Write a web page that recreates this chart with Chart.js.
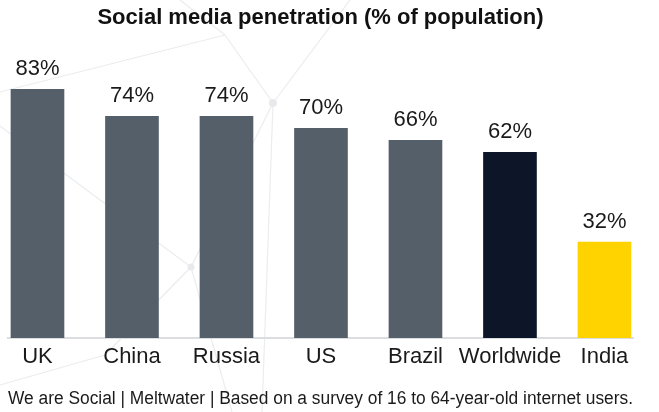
<!DOCTYPE html>
<html>
<head>
<meta charset="utf-8">
<script src="https://cdn.jsdelivr.net/npm/chart.js@4"></script>
<style>
  html, body { margin: 0; padding: 0; background: #fff; }
  #wrap { position: relative; width: 659px; height: 412px; }
  #bg { position: absolute; left: 0; top: 0; }
  #chart { position: absolute; left: 0; top: 0; }
</style>
</head>
<body>
<div id="wrap">
  <!-- faint network pattern behind the chart -->
  <svg id="bg" width="659" height="412">
    <g stroke="#ebecee" stroke-width="1.2" fill="none">
      <line x1="0" y1="92" x2="225" y2="35"/>
      <line x1="225" y1="35" x2="273" y2="103"/>
      <line x1="180" y1="0" x2="225" y2="35"/>
      <line x1="273" y1="103" x2="350" y2="0"/>
      <line x1="273" y1="103" x2="262" y2="412"/>
      <line x1="273" y1="103" x2="191" y2="267"/>
      <line x1="0" y1="126" x2="191" y2="267"/>
      <line x1="191" y1="267" x2="105" y2="355"/>
      <line x1="105" y1="355" x2="0" y2="385"/>
      <line x1="191" y1="267" x2="232" y2="412"/>
    </g>
    <g fill="#e8e9ec">
      <circle cx="273" cy="103" r="4"/>
      <circle cx="191" cy="267" r="3.5"/>
    </g>
  </svg>
  <canvas id="chart" width="659" height="412"></canvas>
</div>
<script>
const categories = ['UK', 'China', 'Russia', 'US', 'Brazil', 'Worldwide', 'India'];
const penetration = [83, 74, 74, 70, 66, 62, 32];
const barColors = ['#555f6a', '#555f6a', '#555f6a', '#555f6a', '#555f6a', '#0c1628', '#ffd300'];

const valueLabels = {
  id: 'valueLabels',
  afterDatasetsDraw(chart) {
    const ctx = chart.ctx;
    const meta = chart.getDatasetMeta(0);
    ctx.save();
    ctx.font = '22px "Liberation Sans", Arial, sans-serif';
    ctx.fillStyle = '#1a1a1a';
    ctx.textAlign = 'center';
    ctx.textBaseline = 'alphabetic';
    meta.data.forEach((bar, i) => {
      ctx.fillText(penetration[i] + '%', bar.x, bar.y - 14);
    });
    ctx.restore();
  }
};

new Chart(document.getElementById('chart'), {
  type: 'bar',
  data: {
    datasets: [{
      data: penetration.map((v, i) => ({ x: i, y: v })),
      backgroundColor: barColors,
      barThickness: 53,
      borderWidth: 0
    }]
  },
  options: {
    responsive: false,
    animation: false,
    layout: { padding: { left: 8, right: 26, top: 0, bottom: 0 } },
    plugins: {
      legend: { display: false },
      tooltip: { enabled: false },
      title: {
        display: true,
        text: 'Social media penetration (% of population)',
        fullSize: false,
        color: '#111',
        font: { family: '"Liberation Sans", Arial, sans-serif', size: 22, weight: 'bold' },
        padding: { top: 5, bottom: 7 }
      },
      subtitle: {
        display: true,
        position: 'bottom',
        text: 'We are Social | Meltwater | Based on a survey of 16 to 64-year-old internet users.',
        color: '#1a1a1a',
        font: { family: '"Liberation Sans", Arial, sans-serif', size: 18 },
        padding: { top: 21, bottom: 2 }
      }
    },
    scales: {
      x: {
        type: 'linear',
        offset: false,
        min: -0.312,
        max: 6.302,
        grid: { display: false },
        border: { display: true, color: '#dcdde1', width: 2 },
        ticks: {
          stepSize: 1,
          includeBounds: false,
          autoSkip: false,
          maxRotation: 0,
          padding: -2.5,
          color: '#1a1a1a',
          font: { family: '"Liberation Sans", Arial, sans-serif', size: 22 },
          callback: (v) => categories[v] !== undefined ? categories[v] : ''
        }
      },
      y: {
        display: false,
        min: 0,
        max: 100
      }
    }
  },
  plugins: [valueLabels]
});
</script>
</body>
</html>
